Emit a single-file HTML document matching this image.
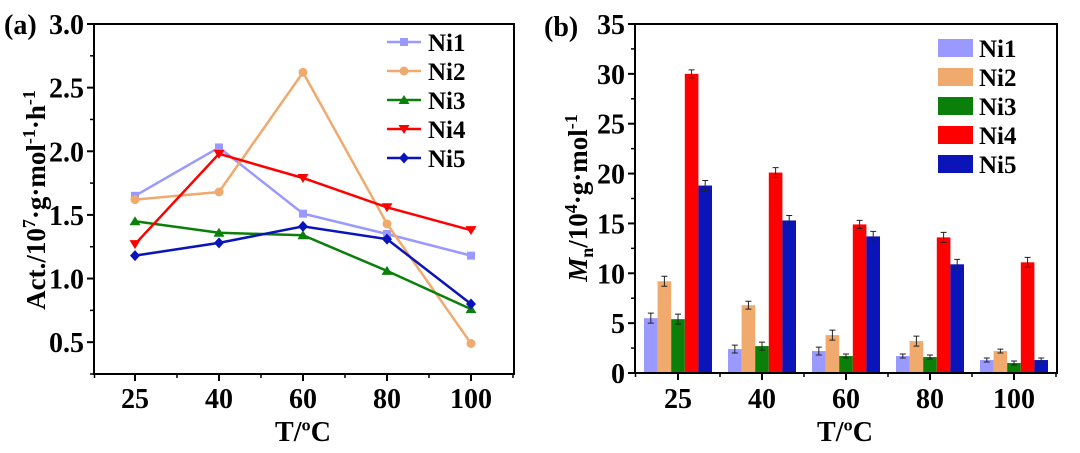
<!DOCTYPE html>
<html><head><meta charset="utf-8"><style>
html,body{margin:0;padding:0;background:#fff;}
svg{display:block;}
svg text{font-family:"Liberation Serif",serif;font-weight:bold;}
</style></head><body>
<svg id="svg" width="1080" height="453" viewBox="0 0 1080 453" xmlns="http://www.w3.org/2000/svg"></svg>
<script>
const categories = ["25","40","60","80","100"];
const seriesNames = ["Ni1","Ni2","Ni3","Ni4","Ni5"];
const colors = ["#9999ff","#f0aa6e","#0a800a","#ff0000","#0a14b8"];
const actNi1 = [1.65,2.03,1.51,1.35,1.18];
const actNi2 = [1.62,1.68,2.62,1.43,0.49];
const actNi3 = [1.45,1.36,1.34,1.06,0.76];
const actNi4 = [1.27,1.98,1.79,1.56,1.38];
const actNi5 = [1.18,1.28,1.41,1.31,0.80];
const mnNi1 = [5.5,2.4,2.2,1.7,1.3];
const mnNi2 = [9.2,6.8,3.8,3.2,2.2];
const mnNi3 = [5.4,2.7,1.7,1.6,1.0];
const mnNi4 = [30.0,20.1,14.9,13.6,11.1];
const mnNi5 = [18.8,15.3,13.7,10.9,1.3];
const mnErr1 = [0.5,0.4,0.4,0.2,0.2];
const mnErr2 = [0.5,0.4,0.5,0.5,0.2];
const mnErr3 = [0.5,0.4,0.2,0.2,0.2];
const mnErr4 = [0.4,0.5,0.4,0.5,0.5];
const mnErr5 = [0.5,0.5,0.5,0.5,0.2];
const aTicks = ["0.5","1.0","1.5","2.0","2.5","3.0"];
const bTicks = ["0","5","10","15","20","25","30","35"];

const NS="http://www.w3.org/2000/svg";
const svg=document.getElementById('svg');
function mk(tag,attrs,parent){const e=document.createElementNS(NS,tag);for(const k in attrs)e.setAttribute(k,attrs[k]);(parent||svg).appendChild(e);return e;}

const aL=94,aR=514,aT=24,aB=374,aMin=0.25,aMax=3.0;
const ax=i=>aL+41+84*i;
const ay=v=>aB-(v-aMin)/(aMax-aMin)*(aB-aT);
const bL=635,bR=1057,bT=24,bB=373,bMax=35;
const bx=i=>678+84*i;
const by=v=>bB-v/bMax*(bB-bT);

function axes(L,R,T,B,name){
  const r=mk('rect',{x:L,y:T,width:R-L,height:B-T,fill:'none',stroke:'#000','stroke-width':2});
  
}
axes(aL,aR,aT,aB,'panel-a');
axes(bL,bR,bT,bB,'panel-b');

function text(x,y,s,size,anchor,name,extra){
  const t=mk('text',Object.assign({x:x,y:y,'font-size':size,'text-anchor':anchor||'middle'},extra||{}));
  t.textContent=s;
  
  
  return t;
}

categories.forEach((c,i)=>{
  mk('line',{x1:ax(i),x2:ax(i),y1:aB,y2:aB+7,stroke:'#000','stroke-width':2});
  mk('line',{x1:ax(i)+42,x2:ax(i)+42,y1:aB,y2:aB+4,stroke:'#000','stroke-width':1.5});
  text(ax(i),aB+34,c,28,'middle','x-tick-label-a');
  mk('line',{x1:bx(i),x2:bx(i),y1:bB,y2:bB+7,stroke:'#000','stroke-width':2});
  mk('line',{x1:bx(i)+42,x2:bx(i)+42,y1:bB,y2:bB+4,stroke:'#000','stroke-width':1.5});
  text(bx(i),bB+35,c,28,'middle','x-tick-label-b');
});
mk('line',{x1:aL+0.5,x2:aL+0.5,y1:aB,y2:aB+4,stroke:'#000','stroke-width':1.5});
mk('line',{x1:bL+0.5,x2:bL+0.5,y1:bB,y2:bB+4,stroke:'#000','stroke-width':1.5});
aTicks.forEach(t=>{
  const v=parseFloat(t),y=ay(v);
  mk('line',{x1:aL-7,x2:aL,y1:y,y2:y,stroke:'#000','stroke-width':2});
  mk('line',{x1:aL-4,x2:aL,y1:ay(v-0.25),y2:ay(v-0.25),stroke:'#000','stroke-width':1.5});
  text(aL-10,y+10,t,28,'end','y-tick-label-a');
});
bTicks.forEach(t=>{
  const v=parseFloat(t),y=by(v);
  mk('line',{x1:bL-7,x2:bL,y1:y,y2:y,stroke:'#000','stroke-width':2});
  if(v>0) mk('line',{x1:bL-4,x2:bL,y1:by(v-2.5),y2:by(v-2.5),stroke:'#000','stroke-width':1.5});
  text(bL-10,y+10,t,28,'end','y-tick-label-b');
});

text(303,441,'T/\u00BAC',28,'middle','x-axis-title-a');
text(845,441,'T/\u00BAC',28,'middle','x-axis-title-b');
const ya=mk('text',{transform:'translate(45,200) rotate(-90)','font-size':27,'text-anchor':'middle'});

ya.innerHTML='Act./10<tspan dy="-10" font-size="18">7</tspan><tspan dy="10">\u00B7g\u00B7mol</tspan><tspan dy="-10" font-size="18">-1</tspan><tspan dy="10">\u00B7h</tspan><tspan dy="-10" font-size="18">-1</tspan>';
const yb=mk('text',{transform:'translate(587,198) rotate(-90)','font-size':27,'text-anchor':'middle'});

yb.innerHTML='<tspan font-style="italic">M</tspan><tspan dy="6" font-size="18">n</tspan><tspan dy="-6">/10</tspan><tspan dy="-10" font-size="18">4</tspan><tspan dy="10">\u00B7g\u00B7mol</tspan><tspan dy="-10" font-size="18">-1</tspan>';
text(4,34,'(a)',28,'start','panel-label-a');
text(544,36,'(b)',28,'start','panel-label-b');

function marker(k,x,y,c,g){
  let e;
  if(k===0) e=mk('rect',{x:x-4,y:y-4,width:8,height:8,fill:c},g);
  else if(k===1) e=mk('circle',{cx:x,cy:y,r:4.5,fill:c},g);
  else if(k===2) e=mk('polygon',{points:`${x},${y-5} ${x+5.5},${y+4} ${x-5.5},${y+4}`,fill:c},g);
  else if(k===3) e=mk('polygon',{points:`${x},${y+5} ${x+5.5},${y-4} ${x-5.5},${y-4}`,fill:c},g);
  else e=mk('polygon',{points:`${x},${y-5.5} ${x+5},${y} ${x},${y+5.5} ${x-5},${y}`,fill:c},g);
  
  
}
const actSeries=[actNi1,actNi2,actNi3,actNi4,actNi5];
actSeries.forEach((arr,k)=>{
  const g=mk('g',{});
  
  
  const pts=arr.map((v,i)=>ax(i)+','+ay(v)).join(' ');
  mk('polyline',{points:pts,fill:'none',stroke:colors[k],'stroke-width':2.5},g);
  arr.forEach((v,i)=>marker(k,ax(i),ay(v),colors[k],g));
  const ly=42+29*k;
  const lg=mk('g',{});
  
  
  mk('line',{x1:387,x2:421,y1:ly,y2:ly,stroke:colors[k],'stroke-width':2.5},lg);
  marker(k,404,ly,colors[k],lg);
  const t=mk('text',{x:428,y:ly+9,'font-size':25},lg);t.textContent=seriesNames[k];
});

const mnSeries=[mnNi1,mnNi2,mnNi3,mnNi4,mnNi5];
const errSeries=[mnErr1,mnErr2,mnErr3,mnErr4,mnErr5];
const bw=13.6;
mnSeries.forEach((arr,k)=>{
  const g=mk('g',{});
  
  
  arr.forEach((v,i)=>{
    const x=bx(i)-2.5*bw+k*bw;
    const r=mk('rect',{x:x,y:by(v),width:bw,height:bB-by(v),fill:colors[k]},g);
    
    
    const e=errSeries[k][i],cx=x+bw/2;
    mk('path',{d:`M${cx},${by(v+e)}V${by(v-e)}M${cx-3},${by(v+e)}H${cx+3}M${cx-3},${by(v-e)}H${cx+3}`,stroke:'#222','stroke-width':1,fill:'none'},g);
  });
  const ly=48+29*k;
  const lg=mk('g',{});
  
  
  mk('rect',{x:938,y:ly-9,width:35,height:18,fill:colors[k]},lg);
  const t=mk('text',{x:979,y:ly+9,'font-size':25},lg);t.textContent=seriesNames[k];
});
mk('line',{x1:bL,x2:bR,y1:bB,y2:bB,stroke:'#000','stroke-width':2});
</script>
</body></html>
